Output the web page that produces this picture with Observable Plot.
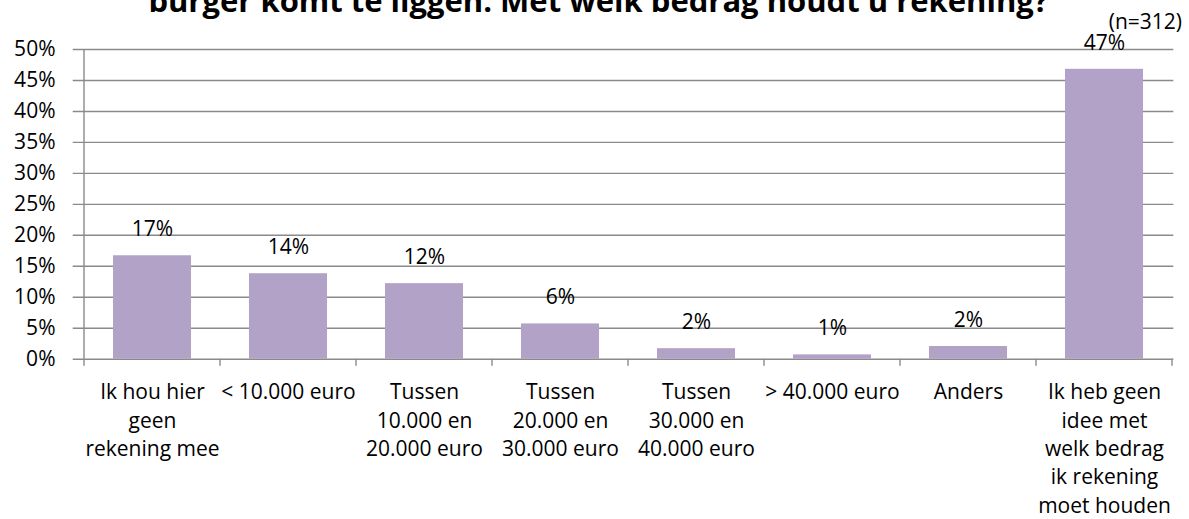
<!DOCTYPE html>
<html>
<head>
<meta charset="utf-8">
<script src="https://cdn.jsdelivr.net/npm/d3@7"></script>
<script src="https://cdn.jsdelivr.net/npm/@observablehq/plot@0.6"></script>
<style>
  html, body { margin: 0; padding: 0; background: #fff; }
  #wrap { position: relative; width: 1189px; height: 519px; overflow: hidden; font-family: "Open Sans", sans-serif; color: #000; }
  #title { position: absolute; left: 4px; top: -15px; width: 1189px; text-align: center; font-weight: bold; font-size: 31px; line-height: 1; white-space: nowrap; }
  #note { position: absolute; right: 7px; top: 11px; font-size: 21px; line-height: 1; }
  #chart { position: absolute; left: 0; top: 0; }
</style>
</head>
<body>
<div id="wrap">
  <div id="chart"></div>
  <div id="title">burger komt te liggen. Met welk bedrag houdt u rekening?</div>
  <div id="note">(n=312)</div>
</div>
<script>
const categories = [
  "Ik hou hier\ngeen\nrekening mee",
  "< 10.000 euro",
  "Tussen\n10.000 en\n20.000 euro",
  "Tussen\n20.000 en\n30.000 euro",
  "Tussen\n30.000 en\n40.000 euro",
  "> 40.000 euro",
  "Anders",
  "Ik heb geen\nidee met\nwelk bedrag\nik rekening\nmoet houden"
];
const values = [16.7, 13.8, 12.2, 5.7, 1.7, 0.7, 2.05, 46.8];
const valueLabels = ["17%", "14%", "12%", "6%", "2%", "1%", "2%", "47%"];
const yTicks = [0, 5, 10, 15, 20, 25, 30, 35, 40, 45, 50];
const yTickLabels = ["0%", "5%", "10%", "15%", "20%", "25%", "30%", "35%", "40%", "45%", "50%"];

const data = categories.map((c, i) => ({cat: c, value: values[i], label: valueLabels[i]}));

const GRID = "#8a8a8a";

function frameLines(index, scales, values, dims) {
  const x = scales.x, y = scales.y;
  const step = x.step ? x.step() : (dims.width - dims.marginLeft - dims.marginRight) / categories.length;
  const bw = x.bandwidth ? x.bandwidth() : step * 0.57;
  const half = (step - bw) / 2;
  const xs = categories.map(c => x(c) - half);
  xs.push(x(categories[categories.length - 1]) + bw + half);
  const y0 = y(0), yTop = y(yTicks[yTicks.length - 1]);
  const g = d3.create("svg:g").attr("stroke", GRID).attr("stroke-width", 1.4);
  g.selectAll("line.tick").data(xs).join("line")
    .attr("x1", d => d).attr("x2", d => d)
    .attr("y1", y0).attr("y2", y0 + 7);
  g.append("line").attr("x1", xs[0]).attr("x2", xs[0]).attr("y1", yTop).attr("y2", y0);
  return g.node();
}

const chart = Plot.plot({
  width: 1189,
  height: 519,
  marginLeft: 81.7,
  marginRight: 15.7,
  marginTop: 49,
  marginBottom: 160.3,
  style: {fontFamily: "Open Sans, sans-serif", fontSize: "21px", color: "#000", background: "transparent"},
  x: {domain: categories, paddingInner: 0.43, paddingOuter: 0.215, label: null},
  y: {domain: [0, 50], label: null},
  marks: [
    Plot.gridY(yTicks, {stroke: GRID, strokeOpacity: 1, strokeWidth: 1.4, insetLeft: -9}),
    Plot.axisY(yTicks, {tickSize: 0, tickPadding: 26.7, tickFormat: d => yTickLabels[yTicks.indexOf(d)], fontSize: 21, fill: "#000"}),
    Plot.barY(data, {x: "cat", y: "value", fill: "#b2a2c7"}),
    Plot.text(data, {x: "cat", y: "value", text: "label", lineAnchor: "bottom", dy: -19.5, fontSize: 21, fill: "#000"}),
    Plot.axisX({tickSize: 0, tickPadding: 20, lineHeight: 1.35, fontSize: 21, fill: "#000"}),
    frameLines
  ]
});
document.getElementById("chart").appendChild(chart);
</script>
</body>
</html>
